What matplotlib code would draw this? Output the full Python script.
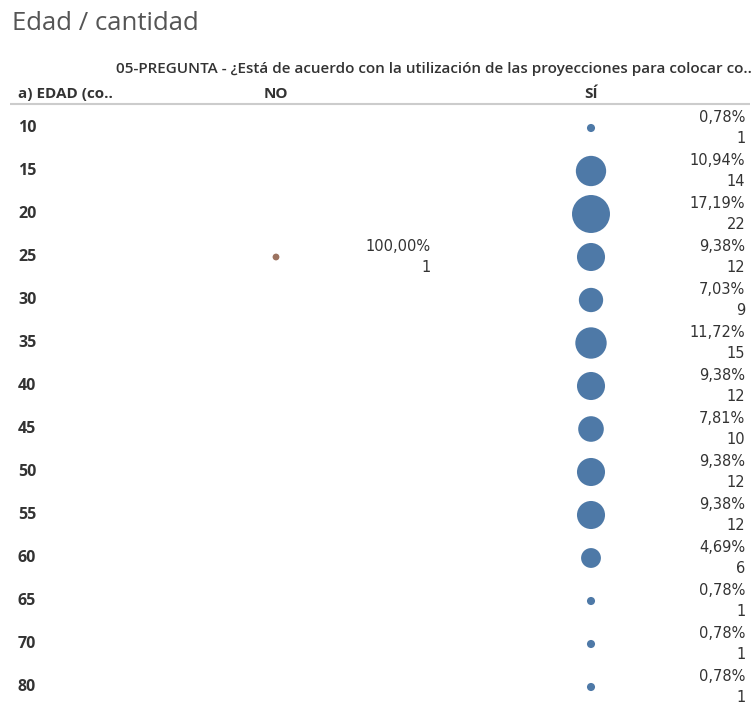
import numpy as np
import matplotlib
matplotlib.use("Agg")
import matplotlib.pyplot as plt
import matplotlib.transforms as mtransforms

# data
ages = ["10", "15", "20", "25", "30", "35", "40", "45", "50", "55", "60", "65", "70", "80"]
si_counts = [1, 14, 22, 12, 9, 15, 12, 10, 12, 12, 6, 1, 1, 1]
si_pct = ["0,78%", "10,94%", "17,19%", "9,38%", "7,03%", "11,72%", "9,38%",
          "7,81%", "9,38%", "9,38%", "4,69%", "0,78%", "0,78%", "0,78%"]
no_ages = ["25"]
no_counts = [1]
no_pct = ["100,00%"]
columns = ["NO", "SÍ"]

title = "Edad / cantidad"
header = "05-PREGUNTA - ¿Está de acuerdo con la utilización de las proyecciones para colocar co.."
row_header = "a) EDAD (co.."

BLUE = "#4e79a7"
BROWN = "#9c7360"
DARK = "#333333"

W, H = 755, 707
fig = plt.figure(figsize=(W / 100, H / 100), dpi=100)

# axes in "cell" units: column index on x, row index on y
x0, dx = 276, 315       # px of NO column centre, px between columns
y0, dy = 128, 43        # px of first row centre, px between rows
ax = fig.add_axes([0, 0, 1, 1])
ax.set_xlim(-x0 / dx, (W - x0) / dx)
ax.set_ylim((H - y0) / dy, -y0 / dy)
ax.axis("off")

row_idx = {a: i for i, a in enumerate(ages)}
size_k = 34  # marker area per count (pt^2)

# SÍ column
ys = np.arange(len(ages))
ax.scatter(np.full(len(ages), 1), ys, s=np.array(si_counts) * size_k,
           color=BLUE, edgecolors="none", zorder=3)
# NO column
no_y = [row_idx[a] for a in no_ages]
ax.scatter(np.zeros(len(no_y)), no_y, s=np.array(no_counts) * 24,
           color=BROWN, edgecolors="none", zorder=3)

label_off = 0.49
lab_kw = dict(ha="right", va="center", fontsize=10.5, color=DARK,
              family="DejaVu Sans")
for y, c, p in zip(ys, si_counts, si_pct):
    ax.annotate(p, (1 + label_off, y), xytext=(0, 7.5), textcoords="offset points", **lab_kw)
    ax.annotate(str(c), (1 + label_off, y), xytext=(0, -7.5), textcoords="offset points", **lab_kw)
for y, c, p in zip(no_y, no_counts, no_pct):
    ax.annotate(p, (label_off, y), xytext=(0, 7.5), textcoords="offset points", **lab_kw)
    ax.annotate(str(c), (label_off, y), xytext=(0, -7.5), textcoords="offset points", **lab_kw)

# row labels (x in figure pixels, y in data rows)
trans = mtransforms.blended_transform_factory(fig.dpi_scale_trans, ax.transData)
for y, a in zip(ys, ages):
    ax.text(18 / 100, y, a, transform=trans, ha="left", va="center",
            fontsize=11.5, fontweight="bold", color=DARK, family="Open Sans")

# column headers
for i, col in enumerate(columns):
    ax.text(i, -0.78, col, ha="center", va="center", fontsize=11,
            fontweight="bold", color=DARK, family="Open Sans")
ax.text(18 / 100, -0.78, row_header, transform=trans, ha="left", va="center",
        fontsize=11, fontweight="bold", color=DARK, family="Open Sans")
ax.text(0.5, -1.38, header, ha="center", va="center", fontsize=11,
        fontweight="semibold", color=DARK, family="Open Sans")
ax.plot([-x0 / dx + 10 / dx, (W - x0) / dx - 5 / dx], [-0.56, -0.56],
        color="#cccccc", lw=1.5, solid_capstyle="butt")

fig.text(12 / W, 1 - 23 / H, title, ha="left", va="center", fontsize=18.5,
         color="#555555", family="Open Sans")

fig.savefig("out.png", dpi=100)
